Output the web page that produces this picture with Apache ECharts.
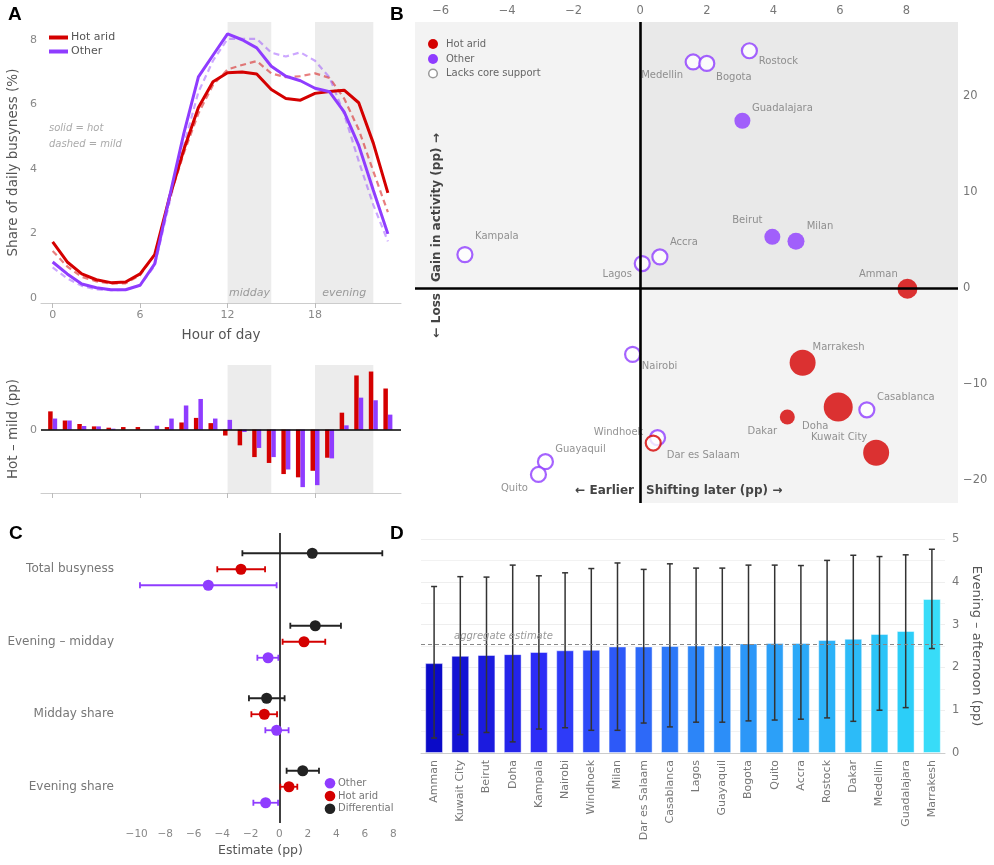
<!DOCTYPE html>
<html lang="en">
<head>
<meta charset="UTF-8" />
<title>Hot days and the timing of activity</title>
<script src="https://cdn.jsdelivr.net/npm/echarts@6/dist/echarts.min.js"></script>
<style>html, body { margin: 0; padding: 0; background: #fff; }</style>
</head>
<body>
<div id="main" style="width: 994px; height: 865px"></div>
<script>
// ---------- A: hourly busyness profiles (% of daily busyness)
const hours = [0, 1, 2, 3, 4, 5, 6, 7, 8, 9, 10, 11, 12, 13, 14, 15, 16, 17, 18, 19, 20, 21, 22, 23];
const hotAridHot = [1.74, 1.12, 0.75, 0.57, 0.48, 0.5, 0.75, 1.35, 3.1, 4.6, 5.9, 6.7, 6.98, 7.0, 6.94, 6.46, 6.18, 6.13, 6.34, 6.4, 6.44, 6.05, 4.8, 3.26];
const hotAridMild = [1.46, 0.98, 0.66, 0.52, 0.45, 0.46, 0.71, 1.35, 3.06, 4.49, 5.72, 6.6, 7.08, 7.22, 7.34, 6.96, 6.84, 6.87, 6.96, 6.82, 6.18, 5.22, 3.93, 2.66];
const otherHot = [1.12, 0.75, 0.44, 0.32, 0.26, 0.26, 0.4, 1.06, 3.1, 5.1, 6.85, 7.52, 8.18, 8.0, 7.75, 7.18, 6.87, 6.73, 6.5, 6.39, 5.77, 4.73, 3.34, 1.99];
const otherMild = [0.95, 0.61, 0.38, 0.27, 0.245, 0.26, 0.4, 1.0, 2.93, 4.73, 6.38, 7.35, 8.03, 8.03, 8.03, 7.6, 7.48, 7.61, 7.35, 6.83, 5.7, 4.24, 2.89, 1.76];
// hot minus mild, percentage points
const hotAridDiff = [0.28, 0.14, 0.087, 0.05, 0.03, 0.04, 0.04, 0.0, 0.04, 0.11, 0.18, 0.1, -0.09, -0.24, -0.42, -0.51, -0.68, -0.73, -0.63, -0.43, 0.26, 0.83, 0.89, 0.63];
const otherDiff = [0.17, 0.14, 0.056, 0.05, 0.015, 0.0, 0.0, 0.06, 0.17, 0.37, 0.47, 0.17, 0.15, -0.036, -0.28, -0.42, -0.61, -0.88, -0.85, -0.44, 0.066, 0.49, 0.45, 0.23];
const hourTicks = [0, 6, 12, 18];
const busyTicks = [0, 2, 4, 6, 8];

// ---------- B: city shifts
const cities = ['Rostock', 'Medellin', 'Bogota', 'Guadalajara', 'Beirut', 'Milan', 'Kampala', 'Accra', 'Lagos', 'Amman',
  'Nairobi', 'Marrakesh', 'Doha', 'Casablanca', 'Dakar', 'Kuwait City', 'Windhoek', 'Dar es Salaam', 'Guayaquil', 'Quito'];
const shiftLater = [3.28, 1.59, 2.0, 3.07, 3.97, 4.68, -5.27, 0.59, 0.06, 8.03, -0.23, 4.88, 5.95, 6.81, 4.42, 7.09, 0.52, 0.39, -2.85, -3.06];
const activityGain = [24.67, 23.5, 23.35, 17.38, 5.3, 4.84, 3.45, 3.21, 2.52, -0.1, -6.93, -7.8, -12.4, -12.7, -13.45, -17.17, -15.6, -16.16, -18.1, -19.43];
const isHotArid = [0, 0, 0, 0, 0, 0, 0, 0, 0, 1, 0, 1, 1, 0, 1, 1, 0, 1, 0, 0];
const coreSupport = [0, 0, 0, 1, 1, 1, 0, 0, 0, 1, 0, 1, 1, 0, 1, 1, 0, 0, 0, 0];
const weight = [1.5, 1.5, 1.5, 1.6, 1.6, 1.7, 1.5, 1.5, 1.5, 2.0, 1.5, 2.6, 2.9, 1.5, 1.5, 2.6, 1.5, 1.5, 1.5, 1.5];
const shiftTicks = [-6, -4, -2, 0, 2, 4, 6, 8];
const shiftMinorTicks = [-5, -3, -1, 1, 3, 5, 7, 9];
const gainTicks = [-20, -10, 0, 10, 20];
const gainMinorTicks = [-15, -5, 5, 15, 25];

// ---------- C: pooled estimates
const estRows = ['Total busyness', 'Evening \u2013 midday', 'Midday share', 'Evening share'];
const diffEst = [2.31, 2.52, -0.89, 1.64];
const diffLo = [-2.59, 0.77, -2.13, 0.51];
const diffHi = [7.22, 4.32, 0.37, 2.78];
const hotEst = [-2.69, 1.73, -1.05, 0.68];
const hotLo = [-4.35, 0.23, -1.96, 0.07];
const hotHi = [-1.0, 3.22, -0.16, 1.26];
const othEst = [-4.98, -0.79, -0.19, -0.96];
const othLo = [-9.77, -1.54, -0.98, -1.82];
const othHi = [-0.19, -0.07, 0.65, -0.09];
const estTicks = [-10, -8, -6, -4, -2, 0, 2, 4, 6, 8];

// ---------- D: per-city evening shift
const rankCities = ['Amman', 'Kuwait City', 'Beirut', 'Doha', 'Kampala', 'Nairobi', 'Windhoek', 'Milan', 'Dar es Salaam', 'Casablanca',
  'Lagos', 'Guayaquil', 'Bogota', 'Quito', 'Accra', 'Rostock', 'Dakar', 'Medellin', 'Guadalajara', 'Marrakesh'];
const eveningShift = [2.1, 2.27, 2.29, 2.31, 2.36, 2.4, 2.41, 2.49, 2.49, 2.5, 2.51, 2.51, 2.56, 2.57, 2.57, 2.64, 2.67, 2.78, 2.85, 3.6];
const shiftLo = [0.35, 0.43, 0.48, 0.26, 0.56, 0.59, 0.53, 0.53, 0.7, 0.61, 0.72, 0.72, 0.75, 0.77, 0.79, 0.82, 0.74, 1.0, 1.06, 2.44];
const shiftHi = [3.89, 4.12, 4.11, 4.39, 4.14, 4.21, 4.31, 4.44, 4.29, 4.42, 4.32, 4.32, 4.39, 4.39, 4.38, 4.5, 4.62, 4.59, 4.63, 4.76];
const aggregateShift = 2.54;

// ---------- styling
const RED = '#d40000', PURPLE = '#8f3cff', INK = '#222';
const FONT = 'DejaVu Sans';
const minus = v => String(v).replace('-', '\u2212');

// label nudges for panel B (pixels from the marker centre)
const labelNudge = {
  'Rostock': [29, 11], 'Medellin': [-31, 13], 'Bogota': [27, 14], 'Guadalajara': [40, -12], 'Beirut': [-25, -16],
  'Milan': [24, -15], 'Kampala': [32, -18], 'Accra': [24, -15], 'Lagos': [-25, 11], 'Amman': [-29, -14],
  'Nairobi': [27, 12], 'Marrakesh': [36, -15], 'Doha': [-23, 19], 'Casablanca': [39, -12], 'Dakar': [-25, 14],
  'Kuwait City': [-37, -15], 'Windhoek': [-39, -5], 'Dar es Salaam': [50, 12], 'Guayaquil': [35, -12], 'Quito': [-24, 14]
};

const xMinB = -6.77, xMaxB = 9.55, yMinB = -22.4, yMaxB = 27.66;

// bar colours for D, by rank
const barStops = [[0, [10, 10, 200]], [0.22, [46, 46, 248]], [0.5, [44, 128, 248]], [0.95, [44, 206, 248]], [1, [56, 220, 248]]];
function rampColor(t) {
  for (let k = 1; k < barStops.length; k++) {
    const [t1, c1] = barStops[k];
    const [t0, c0] = barStops[k - 1];
    if (t <= t1) {
      const f = (t - t0) / (t1 - t0);
      const c = c0.map((v, j) => Math.round(v + (c1[j] - v) * f));
      return 'rgb(' + c.join(',') + ')';
    }
  }
  return 'rgb(56,220,248)';
}

const tickLabel = { color: '#888', fontSize: 11, fontFamily: FONT };
const axisName = { color: '#555', fontSize: 13.5, fontFamily: FONT };
const noZero = { show: false, onZero: false };

function ciSeries(name, est, lo, hi, color, dy) {
  return {
    type: 'custom', name: name, xAxisIndex: 4, yAxisIndex: 4, z: 5,
    data: estRows.map((r, i) => [i, est[i], lo[i], hi[i]]),
    encode: { x: [1, 2, 3], y: 0 },
    renderItem: function (params, api) {
      const c = api.coord([api.value(1), api.value(0)]);
      const l = api.coord([api.value(2), api.value(0)]);
      const h = api.coord([api.value(3), api.value(0)]);
      const y = c[1] + dy;
      const st = { stroke: color, lineWidth: 1.8 };
      return {
        type: 'group', children: [
          { type: 'line', shape: { x1: l[0], y1: y, x2: h[0], y2: y }, style: st },
          { type: 'line', shape: { x1: l[0], y1: y - 3, x2: l[0], y2: y + 3 }, style: st },
          { type: 'line', shape: { x1: h[0], y1: y - 3, x2: h[0], y2: y + 3 }, style: st },
          { type: 'circle', shape: { cx: c[0], cy: y, r: 5.5 }, style: { fill: color } }
        ]
      };
    }
  };
}

const cityPoints = cities.map((name, i) => {
  const col = isHotArid[i] ? RED : PURPLE;
  const filled = coreSupport[i] === 1;
  return {
    name: name,
    value: [shiftLater[i], activityGain[i], weight[i]],
    itemStyle: filled ? { color: col } : { color: '#fff', borderColor: col, borderWidth: 2.2 },
    label: { offset: labelNudge[name] }
  };
});

const option = {
  animation: false,
  backgroundColor: '#fff',
  textStyle: { fontFamily: FONT },
  grid: [
    { left: 41, right: 593, top: 22, height: 281 },
    { left: 41, right: 593, top: 365, height: 128 },
    { left: 415, right: 36, top: 22, height: 481 },
    { left: 121, right: 594, top: 533, height: 290 },
    { left: 421, right: 49, top: 539, height: 214 }
  ],
  legend: [{
    data: ['Hot arid', 'Other'], selectedMode: false, orient: 'vertical', left: 44, top: 27,
    icon: 'rect', itemWidth: 19, itemHeight: 4, itemGap: 3,
    textStyle: { color: '#555', fontSize: 11, fontFamily: FONT, padding: [0, 0, 0, -2] }
  }],
  xAxis: [
    { gridIndex: 0, type: 'value', min: -0.8, max: 23.9, name: 'Hour of day', nameLocation: 'middle', nameGap: 25, nameTextStyle: axisName,
      axisLine: { onZero: false, lineStyle: { color: '#ccc' } }, axisTick: { customValues: hourTicks, length: 5, lineStyle: { color: '#bbb' } },
      axisLabel: Object.assign({ customValues: hourTicks, margin: 7 }, tickLabel), splitLine: { show: false } },
    { gridIndex: 1, type: 'value', min: -0.8, max: 23.9,
      axisLine: { onZero: false, lineStyle: { color: '#ccc' } }, axisTick: { customValues: hourTicks, length: 5, lineStyle: { color: '#bbb' } },
      axisLabel: { show: false }, splitLine: { show: false } },
    { gridIndex: 2, type: 'value', position: 'top', min: xMinB, max: xMaxB,
      axisLine: noZero, axisTick: { inside: true, customValues: shiftTicks, length: 5, lineStyle: { color: '#999' } },
      axisLabel: { customValues: shiftTicks, margin: 5, color: '#777', fontSize: 11.5, fontFamily: FONT, formatter: minus }, splitLine: { show: false } },
    { gridIndex: 2, type: 'value', position: 'top', min: xMinB, max: xMaxB,
      axisLine: noZero, axisTick: { inside: true, customValues: shiftMinorTicks, length: 2.5, lineStyle: { color: '#999' } },
      axisLabel: { show: false }, splitLine: { show: false } },
    { gridIndex: 3, type: 'value', min: -11.1, max: 8.46, name: 'Estimate (pp)', nameLocation: 'middle', nameGap: 21,
      nameTextStyle: { color: '#555', fontSize: 12.5, fontFamily: FONT },
      axisLine: { onZero: false, lineStyle: { color: '#ccc' } }, axisTick: { customValues: estTicks, length: 4, lineStyle: { color: '#bbb' } },
      axisLabel: { customValues: estTicks, margin: 6, color: '#888', fontSize: 10.5, fontFamily: FONT, formatter: minus }, splitLine: { show: false } },
    { gridIndex: 4, type: 'category', data: rankCities,
      axisLine: { onZero: false, lineStyle: { color: '#ccc' } }, axisTick: { show: false },
      axisLabel: { rotate: 90, margin: 7, color: '#777', fontSize: 11, fontFamily: FONT, interval: 0 } }
  ],
  yAxis: [
    { gridIndex: 0, type: 'value', min: -0.15, max: 8.55, name: 'Share of daily busyness (%)', nameLocation: 'middle', nameGap: 21,
      nameTextStyle: axisName, axisLine: noZero, axisTick: { show: false },
      axisLabel: Object.assign({ customValues: busyTicks, margin: 4 }, tickLabel), splitLine: { show: false } },
    { gridIndex: 1, type: 'value', min: -0.97, max: 0.99, name: 'Hot \u2013 mild (pp)', nameLocation: 'middle', nameGap: 21,
      nameTextStyle: axisName, axisLine: noZero, axisTick: { show: false },
      axisLabel: Object.assign({ customValues: [0], margin: 4 }, tickLabel), splitLine: { show: false } },
    { gridIndex: 2, type: 'value', position: 'right', min: yMinB, max: yMaxB,
      axisLine: noZero, axisTick: { inside: true, customValues: gainTicks, length: 5, lineStyle: { color: '#999' } },
      axisLabel: { customValues: gainTicks, margin: 5, color: '#777', fontSize: 11.5, fontFamily: FONT, formatter: minus }, splitLine: { show: false } },
    { gridIndex: 2, type: 'value', position: 'right', min: yMinB, max: yMaxB,
      axisLine: noZero, axisTick: { inside: true, customValues: gainMinorTicks, length: 3, lineStyle: { color: '#999' } },
      axisLabel: { show: false }, splitLine: { show: false } },
    { gridIndex: 3, type: 'category', data: estRows, inverse: true,
      axisLine: noZero, axisTick: { show: false },
      axisLabel: { margin: 7, color: '#777', fontSize: 12, fontFamily: FONT } },
    { gridIndex: 4, type: 'value', position: 'right', min: 0, max: 5, interval: 1,
      name: 'Evening \u2013 afternoon (pp)', nameLocation: 'middle', nameGap: 22, nameRotate: -90,
      nameTextStyle: { color: '#555', fontSize: 13, fontFamily: FONT },
      axisLine: noZero, axisTick: { show: false },
      axisLabel: { margin: 7, color: '#777', fontSize: 11.5, fontFamily: FONT },
      splitLine: { lineStyle: { color: '#eee' } },
      minorTick: { show: false, splitNumber: 2 },
      minorSplitLine: { show: true, lineStyle: { color: '#f2f2f2' } } }
  ],
  series: [
    // ----- A top
    { type: 'line', name: 'Hot arid (mild)', xAxisIndex: 0, yAxisIndex: 0, data: hours.map((h, i) => [h, hotAridMild[i]]),
      showSymbol: false, lineStyle: { color: RED, width: 2.2, type: [6, 4], opacity: 0.5 }, itemStyle: { color: RED },
      markArea: { silent: true, itemStyle: { color: '#ececec' },
        label: { position: 'insideBottom', distance: 4, color: '#9a9a9a', fontStyle: 'italic', fontSize: 11, fontFamily: FONT },
        data: [[{ xAxis: 12, name: 'midday' }, { xAxis: 15 }], [{ xAxis: 18, name: 'evening' }, { xAxis: 22 }]] } },
    { type: 'line', name: 'Other (mild)', xAxisIndex: 0, yAxisIndex: 0, data: hours.map((h, i) => [h, otherMild[i]]),
      showSymbol: false, lineStyle: { color: PURPLE, width: 2.2, type: [6, 4], opacity: 0.45 }, itemStyle: { color: PURPLE } },
    { type: 'line', name: 'Hot arid', xAxisIndex: 0, yAxisIndex: 0, data: hours.map((h, i) => [h, hotAridHot[i]]),
      showSymbol: false, symbol: 'none', lineStyle: { color: RED, width: 3 }, itemStyle: { color: RED } },
    { type: 'line', name: 'Other', xAxisIndex: 0, yAxisIndex: 0, data: hours.map((h, i) => [h, otherHot[i]]),
      showSymbol: false, symbol: 'none', lineStyle: { color: PURPLE, width: 3 }, itemStyle: { color: PURPLE } },
    // ----- A bottom
    { type: 'bar', name: 'Hot arid diff', xAxisIndex: 1, yAxisIndex: 1, data: hours.map((h, i) => [h, hotAridDiff[i]]),
      barWidth: 4.5, barGap: '0%', itemStyle: { color: RED },
      markArea: { silent: true, itemStyle: { color: '#ececec' },
        data: [[{ xAxis: 12 }, { xAxis: 15 }], [{ xAxis: 18 }, { xAxis: 22 }]] },
      markLine: { silent: true, symbol: 'none', label: { show: false }, lineStyle: { color: '#000', width: 1.5, type: 'solid' },
        data: [{ yAxis: 0 }] } },
    { type: 'bar', name: 'Other diff', xAxisIndex: 1, yAxisIndex: 1, data: hours.map((h, i) => [h, otherDiff[i]]),
      barWidth: 4.5, barGap: '0%', itemStyle: { color: PURPLE } },
    // ----- B
    { type: 'scatter', name: 'cities', xAxisIndex: 2, yAxisIndex: 2, data: cityPoints, z: 4,
      symbolSize: v => v[2] * 10,
      label: { show: true, position: 'inside', formatter: p => p.name, color: '#777', fontSize: 10, fontFamily: FONT },
      markArea: { silent: true, z: 1, data: [
        [{ coord: [xMinB, 0], itemStyle: { color: '#f3f3f3' } }, { coord: [0, yMaxB] }],
        [{ coord: [0, 0], itemStyle: { color: '#e9e9e9' } }, { coord: [xMaxB, yMaxB] }],
        [{ coord: [0, yMinB], itemStyle: { color: '#f3f3f3' } }, { coord: [xMaxB, 0] }]
      ] },
      markLine: { silent: true, symbol: 'none', label: { show: false }, lineStyle: { color: '#000', width: 2.6, type: 'solid' },
        data: [{ xAxis: 0 }, { yAxis: 0 }] } },
    // ----- C
    { type: 'line', xAxisIndex: 4, yAxisIndex: 4, data: [], markLine: { silent: true, symbol: 'none', label: { show: false },
        lineStyle: { color: '#000', width: 1.5, type: 'solid' }, data: [{ xAxis: 0 }] } },
    ciSeries('Differential', diffEst, diffLo, diffHi, INK, -16),
    ciSeries('Hot arid est', hotEst, hotLo, hotHi, RED, 0),
    ciSeries('Other est', othEst, othLo, othHi, PURPLE, 16),
    // ----- D
    { type: 'bar', name: 'Evening shift', xAxisIndex: 5, yAxisIndex: 5, barWidth: '68%',
      data: eveningShift.map((v, i) => ({ value: v, itemStyle: { color: rampColor(i / (eveningShift.length - 1)) } })),
      itemStyle: { borderColor: 'rgba(255,255,255,0.45)', borderWidth: 1 },
      markLine: { silent: true, symbol: 'none', z: 6,
        lineStyle: { color: '#888', width: 1, type: [4, 3] },
        label: { show: true, position: 'insideStartTop', formatter: 'aggregate estimate', color: '#999', fontStyle: 'italic',
          fontSize: 10, fontFamily: FONT, padding: [0, 0, 0, 30], distance: 3 },
        data: [{ yAxis: aggregateShift }] } },
    { type: 'custom', name: 'Evening shift CI', xAxisIndex: 5, yAxisIndex: 5, z: 5,
      data: rankCities.map((c, i) => [i, shiftLo[i], shiftHi[i]]),
      encode: { x: 0, y: [1, 2] },
      renderItem: function (params, api) {
        const lo = api.coord([api.value(0), api.value(1)]);
        const hi = api.coord([api.value(0), api.value(2)]);
        const st = { stroke: '#333', lineWidth: 1.5 };
        return { type: 'group', children: [
          { type: 'line', shape: { x1: lo[0], y1: lo[1], x2: hi[0], y2: hi[1] }, style: st },
          { type: 'line', shape: { x1: lo[0] - 3, y1: lo[1], x2: lo[0] + 3, y2: lo[1] }, style: st },
          { type: 'line', shape: { x1: hi[0] - 3, y1: hi[1], x2: hi[0] + 3, y2: hi[1] }, style: st }
        ] };
      } }
  ],
  graphic: [
    // panel letters
    { type: 'text', z: 100, left: 8, top: 5, style: { text: 'A', font: 'bold 19px "Liberation Sans"', fill: '#000' } },
    { type: 'text', z: 100, left: 390, top: 5, style: { text: 'B', font: 'bold 19px "Liberation Sans"', fill: '#000' } },
    { type: 'text', z: 100, left: 9, top: 524, style: { text: 'C', font: 'bold 19px "Liberation Sans"', fill: '#000' } },
    { type: 'text', z: 100, left: 390, top: 524, style: { text: 'D', font: 'bold 19px "Liberation Sans"', fill: '#000' } },
    // A notes
    { type: 'text', z: 100, x: 49, y: 128, style: { text: 'solid = hot', font: 'italic 10px "DejaVu Sans"', fill: '#aaa', verticalAlign: 'middle' } },
    { type: 'text', z: 100, x: 49, y: 144, style: { text: 'dashed = mild', font: 'italic 10px "DejaVu Sans"', fill: '#aaa', verticalAlign: 'middle' } },
    // B legend
    { type: 'circle', z: 100, shape: { cx: 433, cy: 44, r: 5 }, style: { fill: RED } },
    { type: 'circle', z: 100, shape: { cx: 433, cy: 59, r: 5 }, style: { fill: PURPLE } },
    { type: 'circle', z: 100, shape: { cx: 433, cy: 73.5, r: 4.3 }, style: { fill: '#fff', stroke: '#999', lineWidth: 1.5 } },
    { type: 'text', z: 100, x: 446, y: 44, style: { text: 'Hot arid', font: '10px "DejaVu Sans"', fill: '#666', verticalAlign: 'middle' } },
    { type: 'text', z: 100, x: 446, y: 59, style: { text: 'Other', font: '10px "DejaVu Sans"', fill: '#666', verticalAlign: 'middle' } },
    { type: 'text', z: 100, x: 446, y: 73.5, style: { text: 'Lacks core support', font: '10px "DejaVu Sans"', fill: '#666', verticalAlign: 'middle' } },
    // B axis titles
    { type: 'text', z: 100, x: 634, y: 491, style: { text: '\u2190 Earlier', font: 'bold 12px "DejaVu Sans"', fill: '#444', align: 'right', verticalAlign: 'middle' } },
    { type: 'text', z: 100, x: 646, y: 491, style: { text: 'Shifting later (pp) \u2192', font: 'bold 12px "DejaVu Sans"', fill: '#444', align: 'left', verticalAlign: 'middle' } },
    { type: 'text', z: 100, x: 437, y: 282, rotation: Math.PI / 2, style: { text: 'Gain in activity (pp) \u2192', font: 'bold 12px "DejaVu Sans"', fill: '#444', align: 'left', verticalAlign: 'middle' } },
    { type: 'text', z: 100, x: 437, y: 293, rotation: Math.PI / 2, style: { text: '\u2190 Loss', font: 'bold 12px "DejaVu Sans"', fill: '#444', align: 'right', verticalAlign: 'middle' } },
    // C legend
    { type: 'circle', z: 100, shape: { cx: 330, cy: 783.3, r: 5.3 }, style: { fill: PURPLE } },
    { type: 'circle', z: 100, shape: { cx: 330, cy: 796, r: 5.3 }, style: { fill: RED } },
    { type: 'circle', z: 100, shape: { cx: 330, cy: 808.7, r: 5.3 }, style: { fill: INK } },
    { type: 'text', z: 100, x: 338, y: 783.3, style: { text: 'Other', font: '10px "DejaVu Sans"', fill: '#777', verticalAlign: 'middle' } },
    { type: 'text', z: 100, x: 338, y: 796, style: { text: 'Hot arid', font: '10px "DejaVu Sans"', fill: '#777', verticalAlign: 'middle' } },
    { type: 'text', z: 100, x: 338, y: 808.7, style: { text: 'Differential', font: '10px "DejaVu Sans"', fill: '#777', verticalAlign: 'middle' } }
  ]
};

const chart = echarts.init(document.getElementById('main'));
chart.setOption(option);
</script>
</body>
</html>
